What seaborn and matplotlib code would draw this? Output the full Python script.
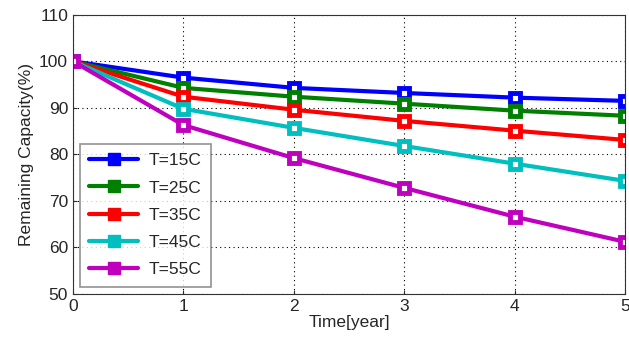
import matplotlib
matplotlib.use("Agg")
import matplotlib.pyplot as plt
import seaborn as sns
import pandas as pd

years = [0, 1, 2, 3, 4, 5]
cap_15 = [100, 96.5, 94.3, 93.2, 92.2, 91.5]
cap_25 = [100, 94.3, 92.4, 90.9, 89.4, 88.3]
cap_35 = [100, 92.4, 89.6, 87.2, 85.1, 83.1]
cap_45 = [100, 89.8, 85.7, 81.8, 78.0, 74.3]
cap_55 = [100, 86.3, 79.2, 72.8, 66.6, 61.2]
labels = ["T=15C", "T=25C", "T=35C", "T=45C", "T=55C"]
colors = ["#0000ff", "#008000", "#ff0000", "#00bfbf", "#bf00bf"]

sns.set_style("white")
plt.rcParams['font.family'] = ['Liberation Sans', 'DejaVu Sans']

fig = plt.figure(figsize=(6.29, 3.45), dpi=100)
ax = fig.add_axes([0.116, 0.148, 0.878, 0.809])

for lab, c, vals in zip(labels, colors, [cap_15, cap_25, cap_35, cap_45, cap_55]):
    df = pd.DataFrame({"Time": years, "Capacity": vals})
    sns.lineplot(data=df, x="Time", y="Capacity", color=c, marker="s",
                 markersize=6.5, markerfacecolor="white", markeredgecolor=c,
                 markeredgewidth=3.5, linewidth=3, ax=ax, label=lab, legend=False)

handles = [plt.Line2D([], [], color=c, lw=3, marker="s", markersize=9, label=lab)
           for lab, c in zip(labels, colors)]

ax.set_xlim(0, 5)
ax.set_ylim(50, 110)
ax.set_xticks(years)
ax.set_yticks(range(50, 111, 10))
ax.grid(True, linestyle=(0, (1, 3)), color="black", linewidth=0.8)
for s in ax.spines.values():
    s.set_color("#333333")
    s.set_linewidth(0.8)
ax.tick_params(labelsize=12.5, direction="in", length=3, left=True, bottom=True)
ax.set_xlabel("Time[year]", fontsize=12.5, labelpad=1)
ax.set_ylabel("Remaining Capacity(%)", fontsize=12.5)

leg = ax.legend(handles=handles, loc="lower left", fontsize=12.5, frameon=True,
                fancybox=False, edgecolor="#777777", handlelength=2.8,
                handletextpad=0.6, borderaxespad=0.4, labelspacing=0.7,
                borderpad=0.55)
leg.get_frame().set_linewidth(1.2)

fig.savefig("out.png", dpi=100)
